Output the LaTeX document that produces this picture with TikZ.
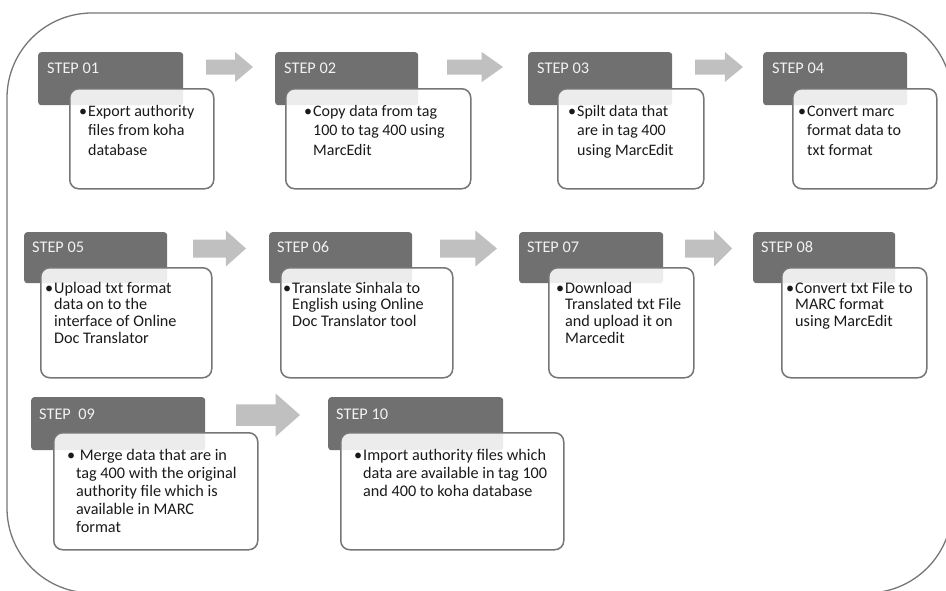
\documentclass[tikz,border=0pt]{standalone}
\usepackage{fontspec}
\setmainfont{Carlito}
\definecolor{hdr}{HTML}{707070}
\definecolor{arr}{HTML}{C0C0C0}
\definecolor{bdr}{HTML}{767676}
\definecolor{txt}{HTML}{1A1A1A}
\newcommand\rowAfont{\fontsize{16}{19.5}\selectfont}
\newcommand\rowBfont{\fontsize{16.2}{16.8}\selectfont}
\newcommand\rowCfont{\fontsize{16.2}{18}\selectfont}
\newcommand\bul{\leavevmode\llap{\textbullet\hspace{1pt}}}
\newcommand\barrow[4]{%
  \fill[arr] ({#1},{#3-#4/2}) -- ({#2-0.38*(#2-#1)},{#3-#4/2}) -- ({#2-0.38*(#2-#1)},{#3-#4})
    -- ({#2},{#3}) -- ({#2-0.38*(#2-#1)},{#3+#4}) -- ({#2-0.38*(#2-#1)},{#3+#4/2}) -- ({#1},{#3+#4/2}) -- cycle;}
\tikzset{
  hdrbox/.style={fill=hdr, rounded corners=3pt, anchor=north west, inner sep=0pt},
  bodybox/.style={draw=bdr, line width=1.5pt, fill=white, fill opacity=0.87, rounded corners=9pt, anchor=north west, inner sep=0pt},
  hdrtext/.style={anchor=base west, inner sep=0pt, text=white!95!black, font=\fontsize{16.3}{18}\selectfont},
  bodytext/.style={anchor=base west, inner sep=0pt, text=txt},
  frameline/.style={draw=bdr, line width=1.3pt, rounded corners=85pt}
}
\begin{document}
\begin{tikzpicture}[x=1pt,y=-1pt]
\useasboundingbox (0,0) rectangle (946,590);
\clip (0,0) rectangle (946,590);
\draw[frameline] (7,13) rectangle (952,593);
% arrows
\barrow{206}{253}{67}{15}
\barrow{447}{503}{67}{15}
\barrow{695}{743}{67}{15}
\barrow{193}{246}{248.5}{18}
\barrow{440}{497}{248.5}{18}
\barrow{685}{732}{248.5}{18}
\barrow{236}{300}{415}{21.5}
% row 1
\node[hdrbox, minimum width=145pt, minimum height=53pt] (h1) at (38,52) {};
\node[hdrbox, minimum width=143pt, minimum height=53pt] (h2) at (275,52) {};
\node[hdrbox, minimum width=144pt, minimum height=53pt] (h3) at (528,52) {};
\node[hdrbox, minimum width=144pt, minimum height=53pt] (h4) at (763,52) {};
\node[bodybox, minimum width=144pt, minimum height=100pt] (b1) at (69,88) {};
\node[bodybox, minimum width=185pt, minimum height=100pt] (b2) at (285,88) {};
\node[bodybox, minimum width=146pt, minimum height=100pt] (b3) at (557,88) {};
\node[bodybox, minimum width=144pt, minimum height=100pt] (b4) at (792,88) {};
% row 2
\node[hdrbox, minimum width=143pt, minimum height=51pt] (h5) at (24,232) {};
\node[hdrbox, minimum width=143pt, minimum height=51pt] (h6) at (269,232) {};
\node[hdrbox, minimum width=144pt, minimum height=51pt] (h7) at (519,232) {};
\node[hdrbox, minimum width=142pt, minimum height=51pt] (h8) at (753,232) {};
\node[bodybox, minimum width=171pt, minimum height=110pt] (b5) at (40,267) {};
\node[bodybox, minimum width=172pt, minimum height=110pt] (b6) at (280,267) {};
\node[bodybox, minimum width=145pt, minimum height=110pt] (b7) at (548,267) {};
\node[bodybox, minimum width=145pt, minimum height=110pt] (b8) at (781,267) {};
% row 3
\node[hdrbox, minimum width=174pt, minimum height=53pt] (h9) at (31,397) {};
\node[hdrbox, minimum width=175pt, minimum height=53pt] (h10) at (328,397) {};
\node[bodybox, minimum width=204pt, minimum height=117pt] (b9) at (53,432) {};
\node[bodybox, minimum width=223pt, minimum height=117pt] (b10) at (340,432) {};
% header texts
\node[hdrtext] (t1) at (47,73) {STEP 01};
\node[hdrtext] (t2) at (284,73) {STEP 02};
\node[hdrtext] (t3) at (537,73) {STEP 03};
\node[hdrtext] (t4) at (772,73) {STEP 04};
\node[hdrtext] (t5) at (32,252) {STEP 05};
\node[hdrtext] (t6) at (277,252) {STEP 06};
\node[hdrtext] (t7) at (527,252) {STEP 07};
\node[hdrtext] (t8) at (761,252) {STEP 08};
\node[hdrtext] (t9) at (39,419) {STEP\ \ 09};
\node[hdrtext] (t10) at (336,419) {STEP 10};
% body texts
\node[bodytext] (x1) at (88,116) {\parbox[t]{140pt}{\rowAfont\raggedright\bul Export authority\\files from koha\\database}};
\node[bodytext] (x2) at (313,116) {\parbox[t]{160pt}{\rowAfont\raggedright\bul Copy data from tag\\100 to tag 400 using\\MarcEdit}};
\node[bodytext] (x3) at (577,116) {\parbox[t]{140pt}{\rowAfont\raggedright\bul Spilt data that\\are in tag 400\\using MarcEdit}};
\node[bodytext] (x4) at (807,116) {\parbox[t]{140pt}{\rowAfont\raggedright\bul Convert marc\\format data to\\txt format}};
\node[bodytext] (x5) at (54,293) {\parbox[t]{160pt}{\rowBfont\raggedright\bul Upload txt format\\data on to the\\interface of Online\\Doc Translator}};
\node[bodytext] (x6) at (292,293) {\parbox[t]{160pt}{\rowBfont\raggedright\bul Translate Sinhala to\\English using Online\\Doc Translator tool}};
\node[bodytext] (x7) at (565,293) {\parbox[t]{140pt}{\rowBfont\raggedright\bul Download\\Translated txt File\\and upload it on\\Marcedit}};
\node[bodytext] (x8) at (795,293) {\parbox[t]{140pt}{\rowBfont\raggedright\bul Convert txt File to\\MARC format\\using MarcEdit}};
\node[bodytext] (x9) at (76,460) {\parbox[t]{190pt}{\rowCfont\raggedright\bul\ Merge data that are in\\tag 400 with the original\\authority file which is\\available in MARC\\format}};
\node[bodytext] (x10) at (363,460) {\parbox[t]{200pt}{\rowCfont\raggedright\bul Import authority files which\\data are available in tag 100\\and 400 to koha database}};
\end{tikzpicture}
\end{document}
